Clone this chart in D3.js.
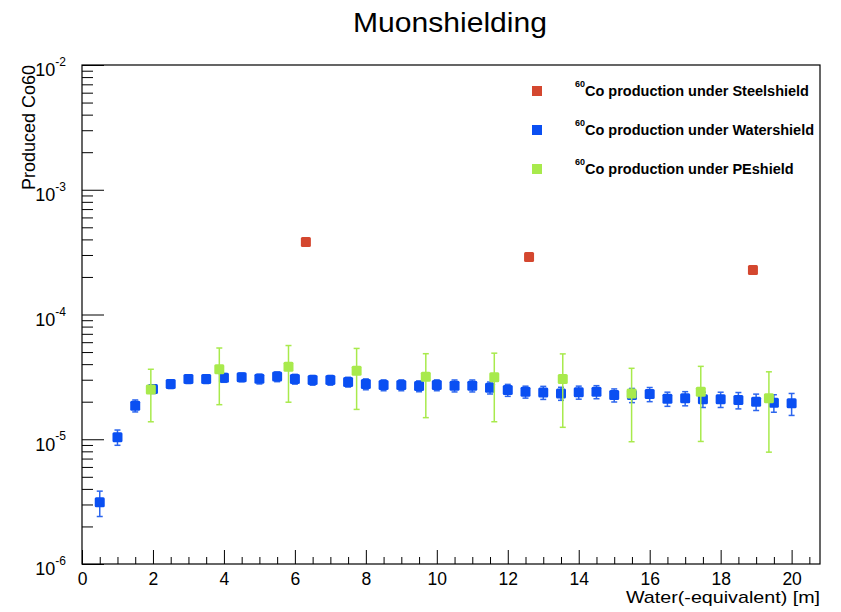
<!DOCTYPE html>
<html>
<head>
<meta charset="utf-8">
<script src="https://cdn.jsdelivr.net/npm/d3@7"></script>
<style>
  body { margin: 0; background: #fff; }
  svg { font-family: "Liberation Sans", Arial, Helvetica, sans-serif; }
</style>
</head>
<body>
<div id="chart"></div>
<script>
// water shield: depth [m] / produced Co60 / relative error
const waterX = [0.5, 1, 1.5, 2, 2.5, 3, 3.5, 4, 4.5, 5, 5.5, 6, 6.5, 7, 7.5, 8, 8.5, 9, 9.5, 10,
  10.5, 11, 11.5, 12, 12.5, 13, 13.5, 14, 14.5, 15, 15.5, 16, 16.5, 17, 17.5, 18, 18.5, 19, 19.5, 20];
const waterY = [3.12e-6, 1.04e-5, 1.86e-5, 2.53e-5, 2.77e-5, 3.04e-5, 3.04e-5, 3.11e-5, 3.14e-5, 3.05e-5,
  3.18e-5, 3.04e-5, 2.98e-5, 2.98e-5, 2.88e-5, 2.77e-5, 2.72e-5, 2.72e-5, 2.67e-5, 2.72e-5,
  2.69e-5, 2.69e-5, 2.59e-5, 2.48e-5, 2.40e-5, 2.37e-5, 2.33e-5, 2.38e-5, 2.40e-5, 2.26e-5,
  2.26e-5, 2.30e-5, 2.11e-5, 2.13e-5, 2.09e-5, 2.09e-5, 2.06e-5, 2.00e-5, 1.96e-5, 1.94e-5];
const waterErr = [0.23, 0.14, 0.11, 0.08, 0.08, 0.08, 0.08, 0.08, 0.08, 0.09,
  0.09, 0.09, 0.09, 0.09, 0.09, 0.1, 0.1, 0.1, 0.1, 0.1,
  0.11, 0.11, 0.11, 0.11, 0.11, 0.12, 0.12, 0.12, 0.12, 0.12,
  0.13, 0.13, 0.13, 0.13, 0.14, 0.14, 0.15, 0.15, 0.16, 0.2];

// PE shield
const peX = [1.94, 3.87, 5.82, 7.74, 9.69, 11.62, 13.55, 15.49, 17.44, 19.36];
const peY = [2.51e-5, 3.64e-5, 3.81e-5, 3.54e-5, 3.17e-5, 3.14e-5, 3.04e-5, 2.33e-5, 2.40e-5, 2.13e-5];
const peErr = [0.45, 0.48, 0.48, 0.51, 0.53, 0.56, 0.59, 0.59, 0.6, 0.63];

// steel shield
const steelX = [6.31, 12.6, 18.91];
const steelY = [3.81e-4, 2.89e-4, 2.27e-4];

const legendLabels = ["Co production under Steelshield", "Co production under Watershield", "Co production under PEshield"];
const xMajorTicks = [0, 2, 4, 6, 8, 10, 12, 14, 16, 18, 20];
const yDecades = [1e-6, 1e-5, 1e-4, 1e-3, 1e-2];

const W = 841, H = 612;
const padL = 82, padR = 820, padT = 65, padB = 564;
const red = "#d4472f", blue = "#0a4ff2", green = "#a8ea4c";

const svg = d3.select("#chart").append("svg").attr("width", W).attr("height", H);

const x = d3.scaleLinear().domain([0, 20.8]).range([padL, padR]);
const y = d3.scaleLog().domain([1e-6, 1e-2]).range([padB, padT]);

// frame
svg.append("rect")
  .attr("x", padL).attr("y", padT)
  .attr("width", padR - padL).attr("height", padB - padT)
  .attr("fill", "none").attr("stroke", "#000").attr("stroke-width", 1.2);

// x axis: minor ticks every 0.5, majors every 2
const xMinor = d3.range(1, 42).map(i => i * 0.5).filter(v => v % 2 !== 0);
svg.append("g")
  .attr("transform", "translate(0," + padB + ")")
  .call(d3.axisBottom(x).tickValues(xMinor).tickSizeInner(-7).tickSizeOuter(0).tickFormat(""))
  .call(g => g.select(".domain").remove());

svg.append("g")
  .attr("transform", "translate(0," + padB + ")")
  .call(d3.axisBottom(x).tickValues(xMajorTicks).tickSizeInner(-14).tickSizeOuter(0).tickPadding(9))
  .call(g => g.select(".domain").remove())
  .call(g => g.selectAll("text").attr("font-size", 17.5).attr("font-family", "Liberation Sans, Arial, sans-serif"));

// y axis: minor ticks 2..9 per decade, majors at decades
const yMinor = [];
yDecades.slice(0, -1).forEach(d => { for (let k = 2; k <= 9; k++) yMinor.push(d * k); });
svg.append("g")
  .attr("transform", "translate(" + padL + ",0)")
  .call(d3.axisLeft(y).tickValues(yMinor).tickSizeInner(-11).tickSizeOuter(0).tickFormat(""))
  .call(g => g.select(".domain").remove());

svg.append("g")
  .attr("transform", "translate(" + padL + ",0)")
  .call(d3.axisLeft(y).tickValues(yDecades).tickSizeInner(-22).tickSizeOuter(0).tickPadding(16))
  .call(g => g.select(".domain").remove())
  .call(g => g.selectAll("text")
    .attr("font-size", 18)
    .attr("font-family", "Liberation Sans, Arial, sans-serif")
    .attr("dy", "0.6em")
    .text(null)
    .each(function (d) {
      const t = d3.select(this);
      t.append("tspan").text("10");
      t.append("tspan").attr("font-size", 12).attr("dy", "-0.85em").text(Math.round(Math.log10(d)));
    }));

// title and axis labels
svg.append("text")
  .attr("x", 450).attr("y", 32)
  .attr("text-anchor", "middle")
  .attr("font-size", 28)
  .attr("textLength", 194).attr("lengthAdjust", "spacingAndGlyphs")
  .text("Muonshielding");

svg.append("text")
  .attr("transform", "translate(35," + padT + ") rotate(-90)")
  .attr("text-anchor", "end")
  .attr("font-size", 18)
  .text("Produced Co60");

svg.append("text")
  .attr("x", padR).attr("y", 603)
  .attr("text-anchor", "end")
  .attr("font-size", 17)
  .attr("textLength", 194).attr("lengthAdjust", "spacingAndGlyphs")
  .text("Water(-equivalent) [m]");

// error bars helper
function errorBars(xs, ys, errs, color) {
  const g = svg.append("g").attr("stroke", color).attr("stroke-width", 1.5);
  xs.forEach((xv, i) => {
    const hi = y(ys[i] * (1 + errs[i]));
    const lo = y(ys[i] * (1 - errs[i]));
    g.append("line").attr("x1", x(xv)).attr("x2", x(xv)).attr("y1", hi).attr("y2", lo);
    g.append("line").attr("x1", x(xv) - 3).attr("x2", x(xv) + 3).attr("y1", hi).attr("y2", hi);
    g.append("line").attr("x1", x(xv) - 3).attr("x2", x(xv) + 3).attr("y1", lo).attr("y2", lo);
  });
}

function markers(xs, ys, color, size) {
  svg.append("g")
    .selectAll("rect")
    .data(xs.map((xv, i) => [xv, ys[i]]))
    .enter()
    .append("rect")
    .attr("x", d => x(d[0]) - size / 2)
    .attr("y", d => y(d[1]) - size / 2)
    .attr("width", size).attr("height", size)
    .attr("rx", 1.5)
    .attr("fill", color);
}

errorBars(waterX, waterY, waterErr, "#2c66ee");
markers(waterX, waterY, blue, 10);
errorBars(peX, peY, peErr, green);
markers(peX, peY, green, 10);
markers(steelX, steelY, red, 10);

// legend
const legColors = [red, blue, green];
const leg = svg.append("g");
legendLabels.forEach((lab, i) => {
  const cy = 91 + i * 39;
  leg.append("rect")
    .attr("x", 532).attr("y", cy - 5)
    .attr("width", 10).attr("height", 10)
    .attr("fill", legColors[i]);
  const t = leg.append("text")
    .attr("x", 575).attr("y", cy + 5)
    .attr("font-size", 14.5).attr("font-weight", "bold");
  t.append("tspan").attr("font-size", 9).attr("dy", "-0.95em").text("60");
  t.append("tspan").attr("dy", "0.6em").text(lab);
});
</script>
</body>
</html>
